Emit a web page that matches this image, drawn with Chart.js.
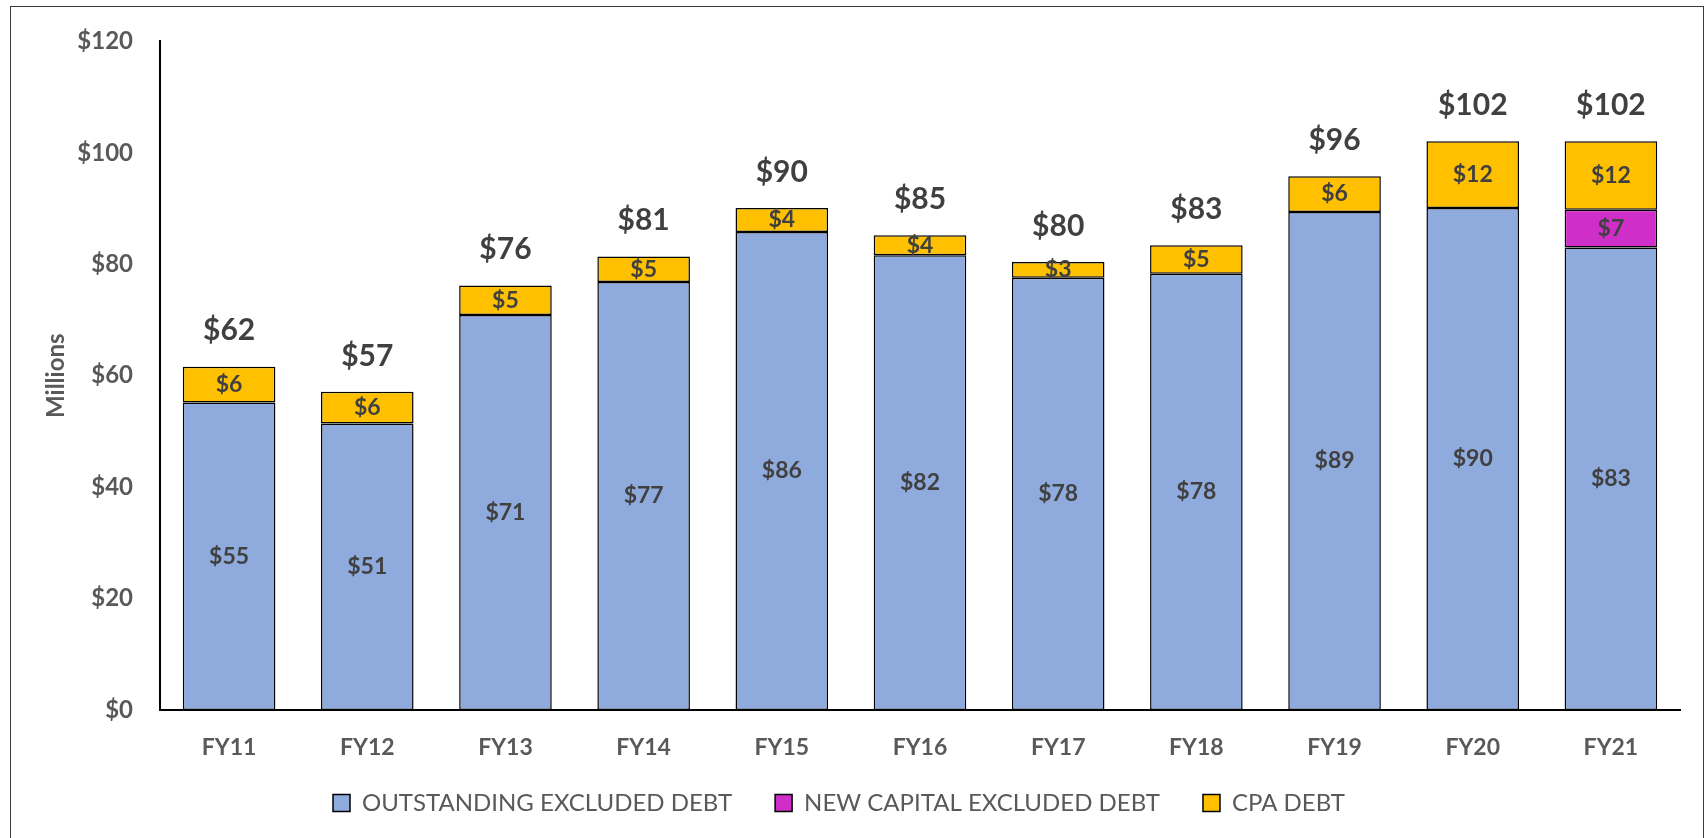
<!DOCTYPE html>
<html>
<head>
<meta charset="utf-8">
<script src="https://cdn.jsdelivr.net/npm/chart.js@4/dist/chart.umd.min.js"></script>
<style>
    body { margin: 0; background: #fff; }
    #frame {
        position: absolute; left: 10px; top: 6px; width: 1692px; height: 900px;
        border: 1.5px solid #3a3a3a; pointer-events: none;
    }
    canvas { position: absolute; left: 0; top: 0; }
</style>
</head>
<body>
<canvas id="debtChart" width="1706" height="838"></canvas>
<div id="frame"></div>
<script>
const years = ['FY11', 'FY12', 'FY13', 'FY14', 'FY15', 'FY16', 'FY17', 'FY18', 'FY19', 'FY20', 'FY21'];
const outstandingDebt = [55.2, 51.4, 70.9, 76.8, 85.8, 81.6, 77.6, 78.3, 89.4, 90.1, 83.0];
const newCapitalDebt = [0, 0, 0, 0, 0, 0, 0, 0, 0, 0, 6.8];
const cpaDebt = [6.4, 5.7, 5.3, 4.6, 4.3, 3.6, 2.8, 5.1, 6.4, 12.0, 12.3];
const yTicks = [0, 20, 40, 60, 80, 100, 120];

const labelFont = 'Lato, "Open Sans", sans-serif';

// draws the $ values inside each segment and the totals above the bars
const valueLabels = {
    id: 'valueLabels',
    afterDatasetsDraw(chart) {
        const ctx = chart.ctx;
        ctx.save();
        ctx.fillStyle = '#404040';
        ctx.textAlign = 'center';
        ctx.textBaseline = 'middle';
        ctx.font = 'bold 23px ' + labelFont;
        chart.data.datasets.forEach((ds, i) => {
            chart.getDatasetMeta(i).data.forEach((bar, j) => {
                const v = ds.data[j];
                if (!v) return;
                ctx.fillText('$' + Math.round(v), bar.x, (bar.y + bar.base) / 2);
            });
        });
        ctx.font = 'bold 30px ' + labelFont;
        const top = chart.getDatasetMeta(chart.data.datasets.length - 1).data;
        years.forEach((y, j) => {
            const total = outstandingDebt[j] + newCapitalDebt[j] + cpaDebt[j];
            ctx.fillText('$' + Math.round(total), top[j].x, top[j].y - 36);
        });
        ctx.restore();
    },
    beforeDraw(chart) {
        // legend sits left of centre and a bit higher in the original
        const lg = chart.legend;
        const w = lg.right - lg.left;
        lg.left = 290;
        lg.right = 290 + w;
        lg.top = 748;
        lg.bottom = chart.height;
    }
};

const ctx = document.getElementById('debtChart').getContext('2d');
new Chart(ctx, {
    type: 'bar',
    data: {
        labels: years,
        datasets: [
            {
                label: 'OUTSTANDING EXCLUDED DEBT',
                data: outstandingDebt,
                backgroundColor: '#8FAADC',
                borderColor: '#000',
                borderWidth: 1.5,
                borderSkipped: false
            },
            {
                label: 'NEW CAPITAL EXCLUDED DEBT',
                data: newCapitalDebt,
                backgroundColor: '#CF2FC8',
                borderColor: '#000',
                borderWidth: 1.5,
                borderSkipped: false
            },
            {
                label: 'CPA DEBT',
                data: cpaDebt,
                backgroundColor: '#FFC000',
                borderColor: '#000',
                borderWidth: 1.5,
                borderSkipped: false
            }
        ]
    },
    options: {
        responsive: false,
        animation: false,
        categoryPercentage: 1,
        barPercentage: 0.67,
        layout: {
            padding: { left: 0, right: 26, top: 39, bottom: 13 }
        },
        plugins: {
            legend: {
                position: 'bottom',
                align: 'start',
                maxHeight: 53,
                labels: {
                    boxWidth: 17,
                    boxHeight: 17,
                    padding: 43,
                    color: '#595959',
                    font: { family: labelFont, size: 24 }
                }
            },
            tooltip: { enabled: false }
        },
        scales: {
            x: {
                stacked: true,
                grid: { display: false, drawTicks: false },
                border: { display: true, color: '#000', width: 2 },
                ticks: {
                    color: '#595959',
                    padding: 24,
                    font: { family: labelFont, size: 23, weight: 'bold' }
                },
                afterFit: scale => { scale.height = 62; }
            },
            y: {
                stacked: true,
                min: 0,
                max: 120,
                afterBuildTicks: scale => { scale.ticks = yTicks.map(v => ({ value: v })); },
                grid: { display: false, drawTicks: false },
                border: { display: true, color: '#000', width: 2 },
                ticks: {
                    color: '#595959',
                    padding: 27,
                    font: { family: labelFont, size: 24, weight: 'bold' },
                    callback: value => '$' + value
                },
                title: {
                    display: true,
                    text: 'Millions',
                    color: '#595959',
                    padding: { top: 42, bottom: 0 },
                    font: { family: labelFont, size: 24, weight: 'bold' }
                },
                afterFit: scale => { scale.width = 160; }
            }
        }
    },
    plugins: [valueLabels]
});
</script>
</body>
</html>
